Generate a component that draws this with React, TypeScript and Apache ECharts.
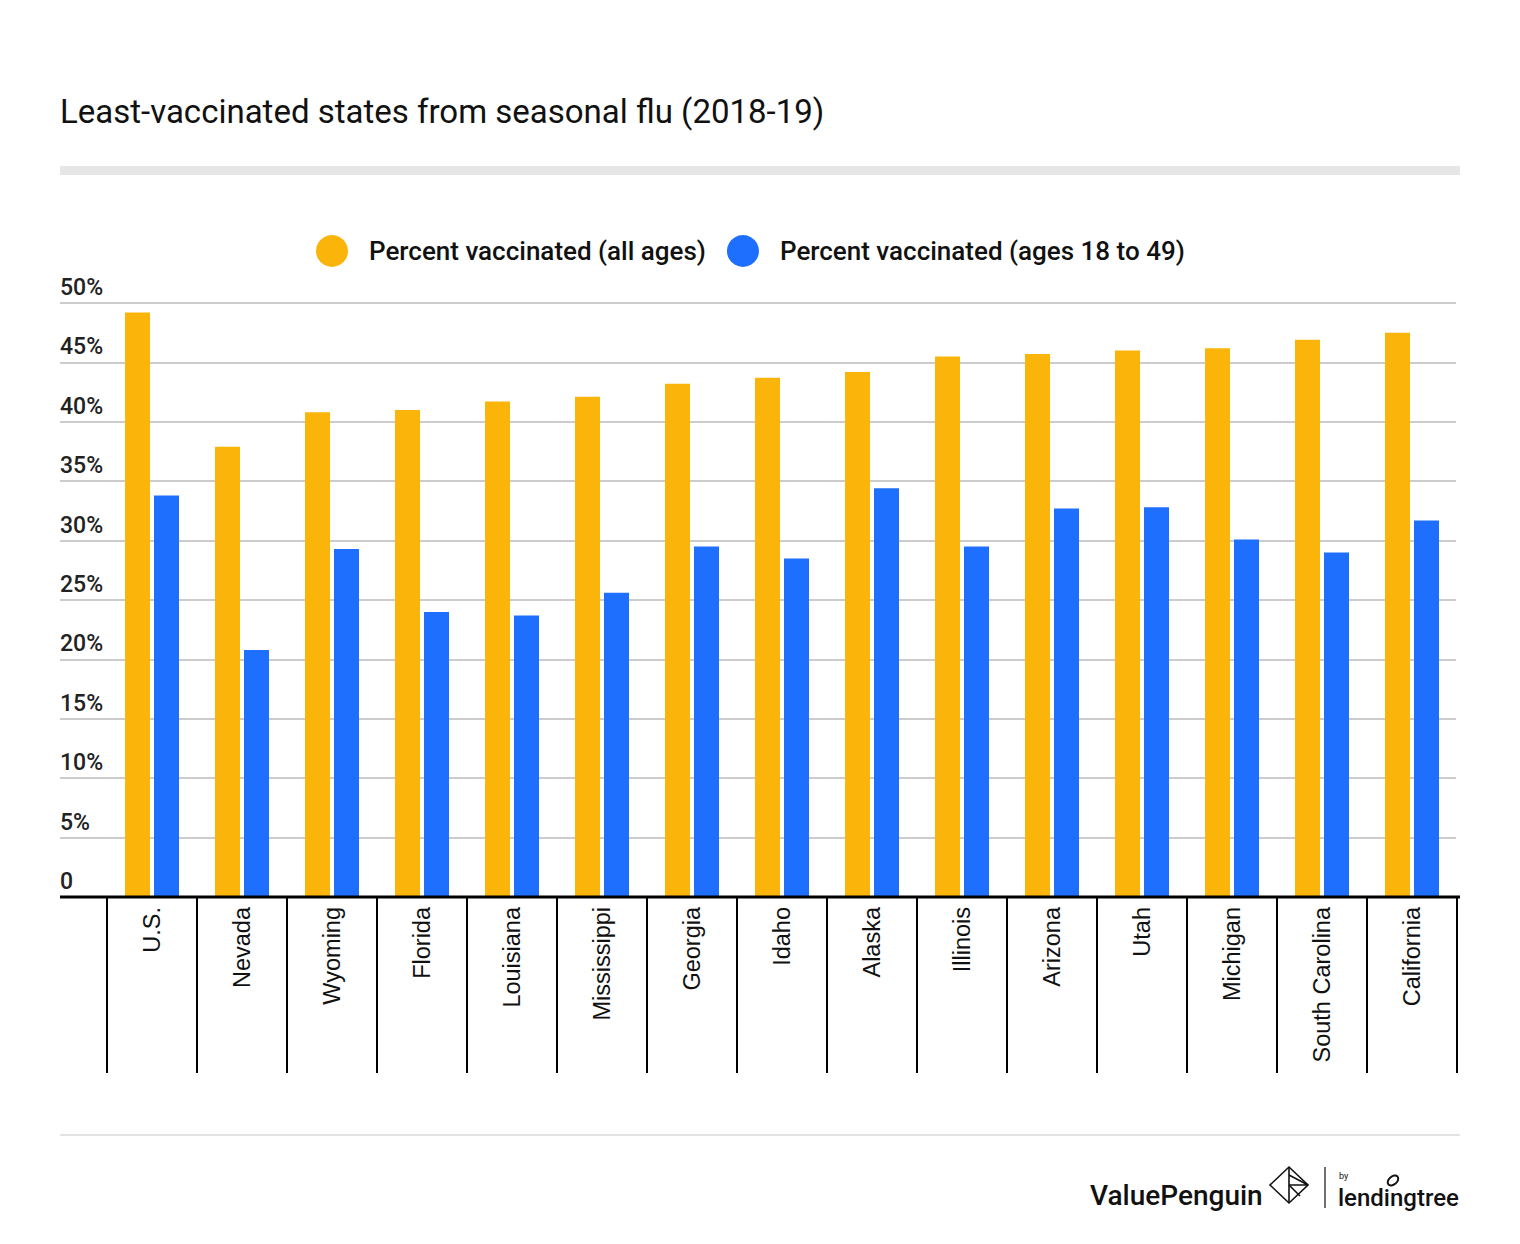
import React, { useEffect, useRef } from "react";
import * as echarts from "echarts";

const categories = ["U.S.", "Nevada", "Wyoming", "Florida", "Louisiana", "Mississippi", "Georgia", "Idaho", "Alaska", "Illinois", "Arizona", "Utah", "Michigan", "South Carolina", "California"];
const allAges = [49.2, 37.9, 40.8, 41.0, 41.7, 42.1, 43.2, 43.7, 44.2, 45.5, 45.7, 46.0, 46.2, 46.9, 47.5];
const ages18to49 = [33.8, 20.8, 29.3, 24.0, 23.7, 25.6, 29.5, 28.5, 34.4, 29.5, 32.7, 32.8, 30.1, 29.0, 31.7];
const seriesNames = ["Percent vaccinated (all ages)", "Percent vaccinated (ages 18 to 49)"];
const title = "Least-vaccinated states from seasonal flu (2018-19)";

const YELLOW = "#FBB40A";
const BLUE = "#1F6FFF";
const FONT = "Roboto, 'Noto Sans', sans-serif";

export default function App() {
  const ref = useRef<HTMLDivElement>(null);
  useEffect(() => {
    document.body.style.margin = "0";
    const chart = echarts.init(ref.current!, null, { renderer: "svg" });
    const top = 303;
    const bottom = 1244 - 897;
    chart.setOption({
      animation: false,
      backgroundColor: "#ffffff",
      title: {
        text: title,
        left: 60,
        top: 95,
        padding: 0,
        textStyle: { fontFamily: FONT, fontSize: 33, fontWeight: "normal", color: "#111" },
      },
      legend: {
        left: 316,
        top: 235,
        padding: 0,
        icon: "circle",
        itemWidth: 32,
        itemHeight: 32,
        itemGap: 21,
        data: seriesNames,
        textStyle: { fontFamily: FONT, fontSize: 26, fontWeight: 500, color: "#111", padding: [0, 0, 0, 16] },
      },
      grid: [
        { left: 60, right: 64, top, bottom },
        { left: 107, right: 63, top, bottom },
      ],
      xAxis: [
        {
          gridIndex: 0, type: "value", min: 0, max: 1, show: false,
        },
        {
          gridIndex: 1, type: "category", data: categories, boundaryGap: true,
          axisLine: { show: false },
          axisTick: { show: true, length: 176, lineStyle: { color: "#000", width: 2 } },
          axisLabel: {
            rotate: 90, margin: 10, fontFamily: "'Liberation Sans', Arial, sans-serif",
            fontSize: 23.5, color: "#111", interval: 0,
          },
        },
      ],
      yAxis: [
        {
          gridIndex: 0, type: "value", min: 0, max: 50, interval: 5,
          axisLine: { show: false }, axisTick: { show: false },
          splitLine: { show: true, lineStyle: { color: "#cccccc", width: 2 } },
          axisLabel: {
            inside: true, margin: 0, verticalAlign: "bottom", padding: [0, 0, 4, 0],
            fontFamily: FONT, fontSize: 23, fontWeight: 500, color: "#222",
            formatter: (v: number) => (v === 0 ? "0" : v + "%"),
          },
        },
        { gridIndex: 1, type: "value", min: 0, max: 50, interval: 5, show: false, splitLine: { show: false } },
      ],
      series: [
        {
          name: seriesNames[0], type: "bar", xAxisIndex: 1, yAxisIndex: 1,
          data: allAges, barWidth: 25, barGap: "16%", itemStyle: { color: YELLOW },
        },
        {
          name: seriesNames[1], type: "bar", xAxisIndex: 1, yAxisIndex: 1,
          data: ages18to49, barWidth: 25, barGap: "16%", itemStyle: { color: BLUE },
        },
      ],
      graphic: [
        { type: "rect", shape: { x: 60, y: 166, width: 1400, height: 9 }, style: { fill: "#e6e6e6" } },
        { type: "line", z: 10, shape: { x1: 60, y1: 897, x2: 1460, y2: 897 }, style: { stroke: "#000", lineWidth: 3 } },
        { type: "line", shape: { x1: 60, y1: 1135, x2: 1460, y2: 1135 }, style: { stroke: "#e3e3e3", lineWidth: 2 } },
        {
          type: "text", x: 1090, y: 1195,
          style: { text: "ValuePenguin", fontFamily: FONT, fontSize: 28, fontWeight: 500, fill: "#111", verticalAlign: "middle" },
        },
        {
          type: "polygon",
          shape: { points: [[1289, 1167], [1308, 1185], [1289, 1203], [1270, 1185]] },
          style: { fill: "none", stroke: "#111", lineWidth: 1.6 },
        },
        { type: "polyline", shape: { points: [[1289, 1167], [1289, 1203]] }, style: { stroke: "#111", lineWidth: 1.6, fill: "none" } },
        { type: "polyline", shape: { points: [[1289, 1185], [1308, 1185], [1289, 1175]] }, style: { stroke: "#111", lineWidth: 1.6, fill: "none" } },
        { type: "polyline", shape: { points: [[1289, 1185], [1300, 1196]] }, style: { stroke: "#111", lineWidth: 1.6, fill: "none" } },
        { type: "line", shape: { x1: 1325, y1: 1167, x2: 1325, y2: 1208 }, style: { stroke: "#111", lineWidth: 1.2 } },
        {
          type: "text", x: 1339, y: 1176,
          style: { text: "by", fontFamily: FONT, fontSize: 9, fill: "#111", verticalAlign: "middle" },
        },
        {
          type: "text", x: 1338, y: 1198,
          style: { text: "lendingtree", fontFamily: FONT, fontSize: 24, fontWeight: 500, fill: "#111", verticalAlign: "middle", letterSpacing: -0.5 },
        },
        {
          type: "ellipse", shape: { cx: 1393, cy: 1180, rx: 6, ry: 4 }, rotation: 0.7, originX: 1393, originY: 1180,
          style: { fill: "none", stroke: "#111", lineWidth: 2 },
        },
      ],
    });
    return () => chart.dispose();
  }, []);
  return <div ref={ref} style={{ width: 1520, height: 1244 }} />;
}
